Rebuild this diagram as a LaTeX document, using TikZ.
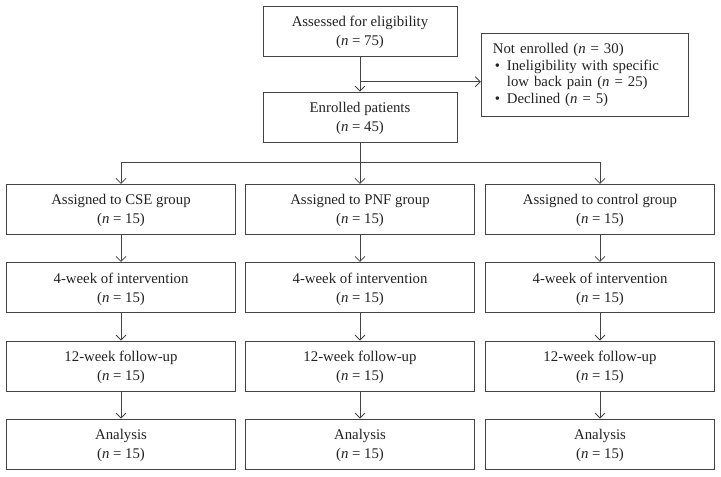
\documentclass[tikz,border=0pt]{standalone}
\usepackage{fontspec}
\setmainfont{Liberation Serif}
\usepackage{xcolor}
\usepackage{tikz}
\usetikzlibrary{arrows.meta,positioning,calc}

\definecolor{linegray}{HTML}{444444}
\definecolor{textgray}{HTML}{222222}

\begin{document}
\begin{tikzpicture}[x=1pt,y=-1pt,
  box/.style={draw=linegray,line width=0.8pt,minimum width=229pt,minimum height=50pt,
    inner sep=0pt,align=center,text=textgray,text depth=0pt,font=\fontsize{14.8}{19}\selectfont},
  topbox/.style={box,minimum width=194pt},
  sidebox/.style={draw=linegray,line width=0.8pt,minimum width=207pt,minimum height=83pt,
    inner xsep=11.7pt,inner ysep=0pt,text width=183.6pt,align=left,text=textgray,
    font=\fontsize{14.8}{16.7}\selectfont},
  arr/.style={draw=linegray,line width=0.8pt,-{Straight Barb[length=5pt,width=10pt]}},
  ln/.style={draw=linegray,line width=0.8pt}]
 	\useasboundingbox (0,0) rectangle (721,477);
 	% top part
 	\node[topbox] (assessed) at (360,31) {Assessed for eligibility\\(\textit{n} = 75)};
 	\node[topbox] (enrolled) at (360,117) {Enrolled patients\\(\textit{n} = 45)};
 	\node[sidebox] (notenrolled) at (584.7,75) {Not enrolled (\textit{n} = 30)\\
 	  \hspace*{2pt}\makebox[12pt][l]{\textbullet}Ineligibility with specific\\
 	  \hspace*{14pt}low back pain (\textit{n} = 25)\\
 	  \hspace*{2pt}\makebox[12pt][l]{\textbullet}Declined (\textit{n} = 5)};
 	\coordinate (branch) at ($(assessed.south)!0.72!(enrolled.north)$);
 	\coordinate (split) at (360,162.3);
 	% groups
 	\node[box] (cse) at (121,209.3) {Assigned to CSE group\\(\textit{n} = 15)};
 	\node[box] (pnf) at (360,209.3) {Assigned to PNF group\\(\textit{n} = 15)};
 	\node[box] (ctrl) at (600,209.3) {Assigned to control group\\(\textit{n} = 15)};
 	\node[box] (cseint) at (121,287.3) {4-week of intervention\\(\textit{n} = 15)};
 	\node[box] (pnfint) at (360,287.3) {4-week of intervention\\(\textit{n} = 15)};
 	\node[box] (ctrlint) at (600,287.3) {4-week of intervention\\(\textit{n} = 15)};
 	\node[box] (csefu) at (121,366) {12-week follow-up\\(\textit{n} = 15)};
 	\node[box] (pnffu) at (360,366) {12-week follow-up\\(\textit{n} = 15)};
 	\node[box] (ctrlfu) at (600,366) {12-week follow-up\\(\textit{n} = 15)};
 	\node[box] (csean) at (121,444) {Analysis\\(\textit{n} = 15)};
 	\node[box] (pnfan) at (360,444) {Analysis\\(\textit{n} = 15)};
 	\node[box] (ctrlan) at (600,444) {Analysis\\(\textit{n} = 15)};
 	% connectors
 	\draw[arr] (assessed) -- (enrolled);
 	\draw[arr] (branch) -- (branch -| notenrolled.west);
 	\draw[ln] (enrolled) -- (split);
 	\draw[arr] (split) -| (cse);
 	\draw[arr] (split) -- (pnf);
 	\draw[arr] (split) -| (ctrl);
 	\draw[arr] (cse) -- (cseint);
 	\draw[arr] (pnf) -- (pnfint);
 	\draw[arr] (ctrl) -- (ctrlint);
 	\draw[arr] (cseint) -- (csefu);
 	\draw[arr] (pnfint) -- (pnffu);
 	\draw[arr] (ctrlint) -- (ctrlfu);
 	\draw[arr] (csefu) -- (csean);
 	\draw[arr] (pnffu) -- (pnfan);
 	\draw[arr] (ctrlfu) -- (ctrlan);
\end{tikzpicture}
\end{document}
